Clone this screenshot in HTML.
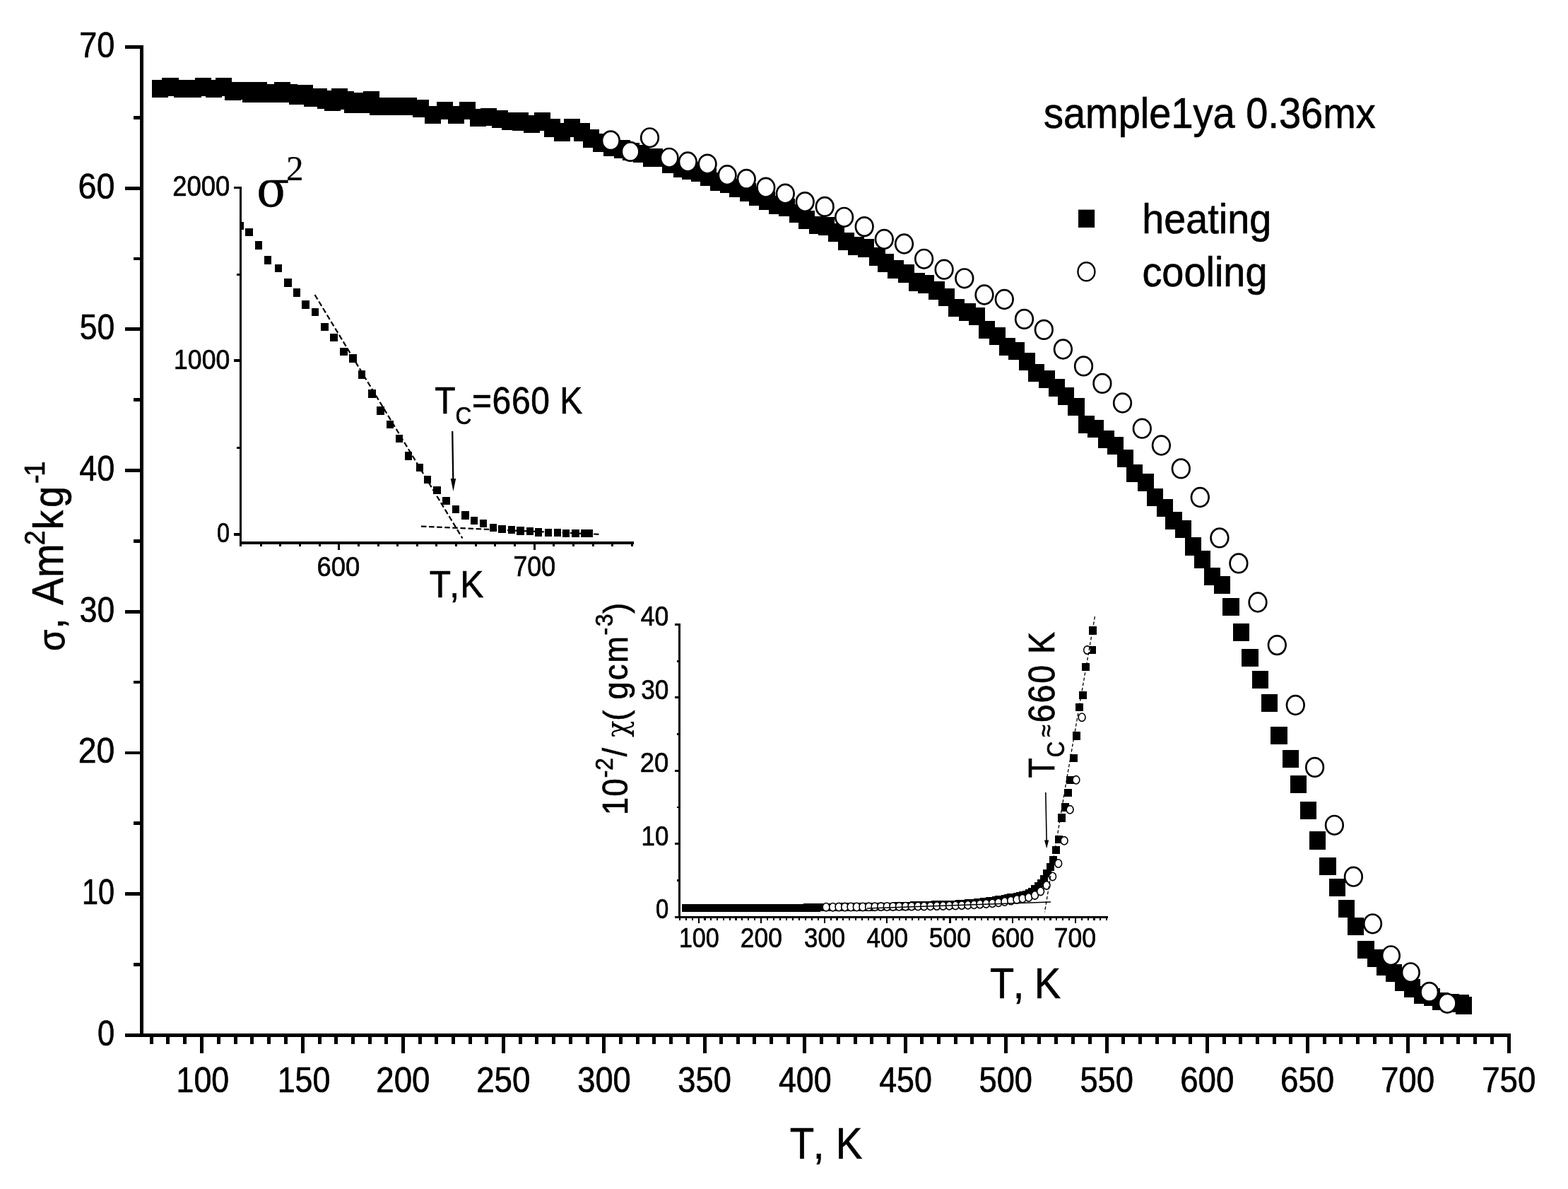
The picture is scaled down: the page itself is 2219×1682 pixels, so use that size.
<!DOCTYPE html>
<html lang="en">
<head>
<meta charset="utf-8">
<title>sample1ya 0.36mx - magnetization vs temperature</title>
<style>
html,body{margin:0;padding:0;background:#fff;}
body{width:2219px;height:1682px;overflow:hidden;}
svg{display:block;}
text{fill:#000;}
</style>
</head>
<body>
<svg xmlns="http://www.w3.org/2000/svg" width="2219" height="1682" viewBox="0 0 2219 1682" fill="#000">
<rect width="2219" height="1682" fill="#fff"/>
<g id="main-axes" shape-rendering="crispEdges">
<rect x="198.2" y="64" width="4.6" height="1402.8"/>
<rect x="177.1" y="1461.8" width="1960.9" height="5"/>
<rect x="188.8" y="1362.05" width="9.5" height="4.8"/>
<rect x="177.1" y="1262.2" width="21.2" height="4.8"/>
<rect x="188.8" y="1162.35" width="9.5" height="4.8"/>
<rect x="177.1" y="1062.5" width="21.2" height="4.8"/>
<rect x="188.8" y="962.65" width="9.5" height="4.8"/>
<rect x="177.1" y="862.8" width="21.2" height="4.8"/>
<rect x="188.8" y="762.95" width="9.5" height="4.8"/>
<rect x="177.1" y="663.1" width="21.2" height="4.8"/>
<rect x="188.8" y="563.25" width="9.5" height="4.8"/>
<rect x="177.1" y="463.4" width="21.2" height="4.8"/>
<rect x="188.8" y="363.55" width="9.5" height="4.8"/>
<rect x="177.1" y="263.7" width="21.2" height="4.8"/>
<rect x="188.8" y="163.85" width="9.5" height="4.8"/>
<rect x="177.1" y="64" width="21.2" height="4.8"/>
<rect x="211.65" y="1466.5" width="5" height="10.4"/>
<rect x="235.37" y="1466.5" width="5" height="10.4"/>
<rect x="259.08" y="1466.5" width="5" height="10.4"/>
<rect x="282.8" y="1466.5" width="5" height="23.2"/>
<rect x="306.66" y="1466.5" width="5" height="10.4"/>
<rect x="330.52" y="1466.5" width="5" height="10.4"/>
<rect x="354.37" y="1466.5" width="5" height="10.4"/>
<rect x="378.23" y="1466.5" width="5" height="10.4"/>
<rect x="402.09" y="1466.5" width="5" height="10.4"/>
<rect x="425.95" y="1466.5" width="5" height="23.2"/>
<rect x="449.64" y="1466.5" width="5" height="10.4"/>
<rect x="473.33" y="1466.5" width="5" height="10.4"/>
<rect x="497.03" y="1466.5" width="5" height="10.4"/>
<rect x="520.72" y="1466.5" width="5" height="10.4"/>
<rect x="544.41" y="1466.5" width="5" height="10.4"/>
<rect x="568.1" y="1466.5" width="5" height="23.2"/>
<rect x="591.75" y="1466.5" width="5" height="10.4"/>
<rect x="615.4" y="1466.5" width="5" height="10.4"/>
<rect x="639.05" y="1466.5" width="5" height="10.4"/>
<rect x="662.7" y="1466.5" width="5" height="10.4"/>
<rect x="686.35" y="1466.5" width="5" height="10.4"/>
<rect x="710" y="1466.5" width="5" height="23.2"/>
<rect x="733.73" y="1466.5" width="5" height="10.4"/>
<rect x="757.47" y="1466.5" width="5" height="10.4"/>
<rect x="781.2" y="1466.5" width="5" height="10.4"/>
<rect x="804.93" y="1466.5" width="5" height="10.4"/>
<rect x="828.67" y="1466.5" width="5" height="10.4"/>
<rect x="852.4" y="1466.5" width="5" height="23.2"/>
<rect x="876.08" y="1466.5" width="5" height="10.4"/>
<rect x="899.77" y="1466.5" width="5" height="10.4"/>
<rect x="923.45" y="1466.5" width="5" height="10.4"/>
<rect x="947.13" y="1466.5" width="5" height="10.4"/>
<rect x="970.82" y="1466.5" width="5" height="10.4"/>
<rect x="994.5" y="1466.5" width="5" height="23.2"/>
<rect x="1018.15" y="1466.5" width="5" height="10.4"/>
<rect x="1041.8" y="1466.5" width="5" height="10.4"/>
<rect x="1065.45" y="1466.5" width="5" height="10.4"/>
<rect x="1089.1" y="1466.5" width="5" height="10.4"/>
<rect x="1112.75" y="1466.5" width="5" height="10.4"/>
<rect x="1136.4" y="1466.5" width="5" height="23.2"/>
<rect x="1160.1" y="1466.5" width="5" height="10.4"/>
<rect x="1183.8" y="1466.5" width="5" height="10.4"/>
<rect x="1207.5" y="1466.5" width="5" height="10.4"/>
<rect x="1231.2" y="1466.5" width="5" height="10.4"/>
<rect x="1254.9" y="1466.5" width="5" height="10.4"/>
<rect x="1278.6" y="1466.5" width="5" height="23.2"/>
<rect x="1302.28" y="1466.5" width="5" height="10.4"/>
<rect x="1325.97" y="1466.5" width="5" height="10.4"/>
<rect x="1349.65" y="1466.5" width="5" height="10.4"/>
<rect x="1373.33" y="1466.5" width="5" height="10.4"/>
<rect x="1397.02" y="1466.5" width="5" height="10.4"/>
<rect x="1420.7" y="1466.5" width="5" height="23.2"/>
<rect x="1444.52" y="1466.5" width="5" height="10.4"/>
<rect x="1468.33" y="1466.5" width="5" height="10.4"/>
<rect x="1492.15" y="1466.5" width="5" height="10.4"/>
<rect x="1515.97" y="1466.5" width="5" height="10.4"/>
<rect x="1539.78" y="1466.5" width="5" height="10.4"/>
<rect x="1563.6" y="1466.5" width="5" height="23.2"/>
<rect x="1587.33" y="1466.5" width="5" height="10.4"/>
<rect x="1611.07" y="1466.5" width="5" height="10.4"/>
<rect x="1634.8" y="1466.5" width="5" height="10.4"/>
<rect x="1658.53" y="1466.5" width="5" height="10.4"/>
<rect x="1682.27" y="1466.5" width="5" height="10.4"/>
<rect x="1706" y="1466.5" width="5" height="23.2"/>
<rect x="1729.65" y="1466.5" width="5" height="10.4"/>
<rect x="1753.3" y="1466.5" width="5" height="10.4"/>
<rect x="1776.95" y="1466.5" width="5" height="10.4"/>
<rect x="1800.6" y="1466.5" width="5" height="10.4"/>
<rect x="1824.25" y="1466.5" width="5" height="10.4"/>
<rect x="1847.9" y="1466.5" width="5" height="23.2"/>
<rect x="1871.55" y="1466.5" width="5" height="10.4"/>
<rect x="1895.2" y="1466.5" width="5" height="10.4"/>
<rect x="1918.85" y="1466.5" width="5" height="10.4"/>
<rect x="1942.5" y="1466.5" width="5" height="10.4"/>
<rect x="1966.15" y="1466.5" width="5" height="10.4"/>
<rect x="1989.8" y="1466.5" width="5" height="23.2"/>
<rect x="2013.67" y="1466.5" width="5" height="10.4"/>
<rect x="2037.53" y="1466.5" width="5" height="10.4"/>
<rect x="2061.4" y="1466.5" width="5" height="10.4"/>
<rect x="2085.27" y="1466.5" width="5" height="10.4"/>
<rect x="2109.13" y="1466.5" width="5" height="10.4"/>
<rect x="2133" y="1466.5" width="5" height="23.2"/>
</g>
<g id="main-ticklabels">
<text transform="translate(112.17 80.86) scale(0.9114 1.0009)" font-family="'Liberation Sans', sans-serif" font-size="49.4" stroke="#000" stroke-width="0.69">70</text>
<text transform="translate(110.5 280.56) scale(0.9427 1.0009)" font-family="'Liberation Sans', sans-serif" font-size="49.4" stroke="#000" stroke-width="0.69">60</text>
<text transform="translate(112.87 480.26) scale(0.8984 1.0009)" font-family="'Liberation Sans', sans-serif" font-size="49.4" stroke="#000" stroke-width="0.69">50</text>
<text transform="translate(112.23 679.96) scale(0.9105 1.0009)" font-family="'Liberation Sans', sans-serif" font-size="49.4" stroke="#000" stroke-width="0.69">40</text>
<text transform="translate(112.87 879.66) scale(0.8984 1.0009)" font-family="'Liberation Sans', sans-serif" font-size="49.4" stroke="#000" stroke-width="0.69">30</text>
<text transform="translate(110.82 1079.36) scale(0.9368 1.0009)" font-family="'Liberation Sans', sans-serif" font-size="49.4" stroke="#000" stroke-width="0.69">20</text>
<text transform="translate(116.1 1279.06) scale(0.8378 1.0009)" font-family="'Liberation Sans', sans-serif" font-size="49.4" stroke="#000" stroke-width="0.69">10</text>
<text transform="translate(138 1478.76) scale(0.8792 1.0009)" font-family="'Liberation Sans', sans-serif" font-size="49.4" stroke="#000" stroke-width="0.69">0</text>
<text transform="translate(249.57 1544.55) scale(0.8946 1.0000)" font-family="'Liberation Sans', sans-serif" font-size="50" stroke="#000" stroke-width="0.7">100</text>
<text transform="translate(392.72 1544.55) scale(0.8946 1.0000)" font-family="'Liberation Sans', sans-serif" font-size="50" stroke="#000" stroke-width="0.7">150</text>
<text transform="translate(532.25 1544.55) scale(0.9132 1.0000)" font-family="'Liberation Sans', sans-serif" font-size="50" stroke="#000" stroke-width="0.7">200</text>
<text transform="translate(674.15 1544.55) scale(0.9132 1.0000)" font-family="'Liberation Sans', sans-serif" font-size="50" stroke="#000" stroke-width="0.7">250</text>
<text transform="translate(817.24 1544.55) scale(0.9047 1.0000)" font-family="'Liberation Sans', sans-serif" font-size="50" stroke="#000" stroke-width="0.7">300</text>
<text transform="translate(959.34 1544.55) scale(0.9047 1.0000)" font-family="'Liberation Sans', sans-serif" font-size="50" stroke="#000" stroke-width="0.7">350</text>
<text transform="translate(1101.93 1544.55) scale(0.8963 1.0000)" font-family="'Liberation Sans', sans-serif" font-size="50" stroke="#000" stroke-width="0.7">400</text>
<text transform="translate(1244.13 1544.55) scale(0.8963 1.0000)" font-family="'Liberation Sans', sans-serif" font-size="50" stroke="#000" stroke-width="0.7">450</text>
<text transform="translate(1385.54 1544.55) scale(0.9047 1.0000)" font-family="'Liberation Sans', sans-serif" font-size="50" stroke="#000" stroke-width="0.7">500</text>
<text transform="translate(1528.44 1544.55) scale(0.9047 1.0000)" font-family="'Liberation Sans', sans-serif" font-size="50" stroke="#000" stroke-width="0.7">550</text>
<text transform="translate(1670.15 1544.55) scale(0.9132 1.0000)" font-family="'Liberation Sans', sans-serif" font-size="50" stroke="#000" stroke-width="0.7">600</text>
<text transform="translate(1812.05 1544.55) scale(0.9132 1.0000)" font-family="'Liberation Sans', sans-serif" font-size="50" stroke="#000" stroke-width="0.7">650</text>
<text transform="translate(1953.95 1544.55) scale(0.9132 1.0000)" font-family="'Liberation Sans', sans-serif" font-size="50" stroke="#000" stroke-width="0.7">700</text>
<text transform="translate(2097.15 1544.55) scale(0.9132 1.0000)" font-family="'Liberation Sans', sans-serif" font-size="50" stroke="#000" stroke-width="0.7">750</text>
</g>
<text id="main-xlabel" transform="scale(0.9000 1)" font-family="'Liberation Sans', sans-serif" stroke="#000" xml:space="preserve"><tspan x="1242.03 1278.49 1296.31 1314.13" y="1639.49" font-size="62.71" stroke-width="0.7">T, K</tspan></text>
<text id="main-ylabel" transform="rotate(-90) scale(0.9177 1)" font-family="'Liberation Sans', sans-serif" stroke="#000" xml:space="preserve"><tspan x="-1003.69" y="90.79" font-size="53.82" stroke-width="0.7">σ</tspan><tspan x="-969.76 -951.19 -932.61 -890.15" y="89.49" font-size="62.59" stroke-width="0.7">, Am</tspan><tspan x="-840.3" y="63.39" font-size="40.97" stroke-width="0.7">2</tspan><tspan x="-816.06 -782.39" y="89.5" font-size="59.18" stroke-width="0.7">kg</tspan><tspan x="-745.41 -734.09" y="63.38" font-size="41.55" stroke-width="0.7">-1</tspan></text>
<g id="title"><text transform="translate(1476.98 181.2) scale(0.9269 1.0002)" font-family="'Liberation Sans', sans-serif" font-size="60.4" stroke="#000" stroke-width="0.69">sample1ya 0.36mx</text></g>
<g id="legend"><rect x="1526" y="296.6" width="23.1" height="25.3"/><ellipse cx="1537.4" cy="384.3" rx="12" ry="13" fill="#fff" stroke="#000" stroke-width="2.4"/><text transform="translate(1616.27 329.7) scale(0.9314 0.9994)" font-family="'Liberation Sans', sans-serif" font-size="59.9" stroke="#000" stroke-width="0.69">heating</text><text transform="translate(1616.44 405) scale(0.9296 1.0006)" font-family="'Liberation Sans', sans-serif" font-size="60.1" stroke="#000" stroke-width="0.69">cooling</text></g>
<g id="heating" shape-rendering="crispEdges">
<rect x="215.2" y="112.95" width="23.2" height="25.3"/>
<rect x="229.4" y="110.25" width="23.2" height="25.3"/>
<rect x="246.1" y="112.95" width="23.2" height="25.3"/>
<rect x="262" y="112.95" width="23.2" height="25.3"/>
<rect x="276.2" y="110.25" width="23.2" height="25.3"/>
<rect x="291.1" y="112.95" width="23.2" height="25.3"/>
<rect x="305" y="110.25" width="23.2" height="25.3"/>
<rect x="318" y="116.35" width="23.2" height="25.3"/>
<rect x="331.8" y="115.95" width="23.2" height="25.3"/>
<rect x="343.1" y="119.35" width="23.2" height="25.3"/>
<rect x="354.9" y="115.95" width="23.2" height="25.3"/>
<rect x="365" y="119.35" width="23.2" height="25.3"/>
<rect x="386.1" y="119.35" width="23.2" height="25.3"/>
<rect x="388.1" y="115.95" width="23.2" height="25.3"/>
<rect x="397.6" y="119.05" width="23.2" height="25.3"/>
<rect x="409.1" y="122.45" width="23.2" height="25.3"/>
<rect x="420" y="120.05" width="23.2" height="25.3"/>
<rect x="430.1" y="125.45" width="23.2" height="25.3"/>
<rect x="439.6" y="125.25" width="23.2" height="25.3"/>
<rect x="449.1" y="128.45" width="23.2" height="25.3"/>
<rect x="459" y="131.55" width="23.2" height="25.3"/>
<rect x="464" y="128.45" width="23.2" height="25.3"/>
<rect x="468.8" y="125.25" width="23.2" height="25.3"/>
<rect x="477.6" y="129.25" width="23.2" height="25.3"/>
<rect x="487.1" y="134.55" width="23.2" height="25.3"/>
<rect x="495" y="131.15" width="23.2" height="25.3"/>
<rect x="500" y="134.35" width="23.2" height="25.3"/>
<rect x="514" y="129.05" width="23.2" height="25.3"/>
<rect x="523.1" y="138.15" width="23.2" height="25.3"/>
<rect x="537" y="138.15" width="23.2" height="25.3"/>
<rect x="552" y="138.15" width="23.2" height="25.3"/>
<rect x="566.9" y="138.15" width="23.2" height="25.3"/>
<rect x="583.8" y="141.05" width="23.2" height="25.3"/>
<rect x="601.1" y="150.15" width="23.2" height="25.3"/>
<rect x="618" y="144.05" width="23.2" height="25.3"/>
<rect x="634" y="150.15" width="23.2" height="25.3"/>
<rect x="650" y="144.05" width="23.2" height="25.3"/>
<rect x="665.2" y="153.55" width="23.2" height="25.3"/>
<rect x="679.9" y="153.15" width="23.2" height="25.3"/>
<rect x="696" y="156.05" width="23.2" height="25.3"/>
<rect x="710" y="158.95" width="23.2" height="25.3"/>
<rect x="724.9" y="159.25" width="23.2" height="25.3"/>
<rect x="741.2" y="162.55" width="23.2" height="25.3"/>
<rect x="755.8" y="159.25" width="23.2" height="25.3"/>
<rect x="769.8" y="168.35" width="23.2" height="25.3"/>
<rect x="783.9" y="174.25" width="23.2" height="25.3"/>
<rect x="797.9" y="168.35" width="23.2" height="25.3"/>
<rect x="812.1" y="174.45" width="23.2" height="25.3"/>
<rect x="825" y="183.25" width="23.2" height="25.3"/>
<rect x="839.2" y="189.35" width="23.2" height="25.3"/>
<rect x="854.2" y="195.45" width="23.2" height="25.3"/>
<rect x="869.1" y="198.45" width="23.2" height="25.3"/>
<rect x="881.3" y="201.55" width="23.2" height="25.3"/>
<rect x="896.2" y="204.55" width="23.2" height="25.3"/>
<rect x="910" y="210.35" width="23.2" height="25.3"/>
<rect x="914.5" y="210.35" width="23.2" height="25.3"/>
<rect x="937.2" y="219.45" width="23.2" height="25.3"/>
<rect x="953.2" y="225.35" width="23.2" height="25.3"/>
<rect x="965.4" y="229.15" width="23.2" height="25.3"/>
<rect x="978.3" y="231.45" width="23.2" height="25.3"/>
<rect x="991.2" y="238.15" width="23.2" height="25.3"/>
<rect x="1005.4" y="244.25" width="23.2" height="25.3"/>
<rect x="1019" y="247.25" width="23.2" height="25.3"/>
<rect x="1032.1" y="253.35" width="23.2" height="25.3"/>
<rect x="1047" y="259.25" width="23.2" height="25.3"/>
<rect x="1060.3" y="265.35" width="23.2" height="25.3"/>
<rect x="1074.2" y="271.45" width="23.2" height="25.3"/>
<rect x="1088.2" y="277.45" width="23.2" height="25.3"/>
<rect x="1102.1" y="280.55" width="23.2" height="25.3"/>
<rect x="1117" y="289.35" width="23.2" height="25.3"/>
<rect x="1130.2" y="298.45" width="23.2" height="25.3"/>
<rect x="1145.1" y="305.65" width="23.2" height="25.3"/>
<rect x="1158" y="307.25" width="23.2" height="25.3"/>
<rect x="1172" y="316.45" width="23.2" height="25.3"/>
<rect x="1186.2" y="329.15" width="23.2" height="25.3"/>
<rect x="1200" y="335.45" width="23.2" height="25.3"/>
<rect x="1214" y="338.45" width="23.2" height="25.3"/>
<rect x="1230" y="350.45" width="23.2" height="25.3"/>
<rect x="1242.1" y="359.45" width="23.2" height="25.3"/>
<rect x="1256.1" y="368.45" width="23.2" height="25.3"/>
<rect x="1271" y="374.45" width="23.2" height="25.3"/>
<rect x="1286.2" y="386.35" width="23.2" height="25.3"/>
<rect x="1299.1" y="389.35" width="23.2" height="25.3"/>
<rect x="1314" y="398.25" width="23.2" height="25.3"/>
<rect x="1327.9" y="407.65" width="23.2" height="25.3"/>
<rect x="1342.2" y="422.95" width="23.2" height="25.3"/>
<rect x="1357.3" y="429.15" width="23.2" height="25.3"/>
<rect x="1370.9" y="434.95" width="23.2" height="25.3"/>
<rect x="1384.7" y="453.75" width="23.2" height="25.3"/>
<rect x="1400" y="463.05" width="23.2" height="25.3"/>
<rect x="1413.5" y="478.15" width="23.2" height="25.3"/>
<rect x="1426.8" y="483.85" width="23.2" height="25.3"/>
<rect x="1441.6" y="498.95" width="23.2" height="25.3"/>
<rect x="1454.7" y="514.75" width="23.2" height="25.3"/>
<rect x="1470" y="524.05" width="23.2" height="25.3"/>
<rect x="1483.5" y="535.85" width="23.2" height="25.3"/>
<rect x="1497.1" y="547.85" width="23.2" height="25.3"/>
<rect x="1511.4" y="562.95" width="23.2" height="25.3"/>
<rect x="1525.9" y="588.05" width="23.2" height="25.3"/>
<rect x="1539" y="593.75" width="23.2" height="25.3"/>
<rect x="1553.5" y="608.85" width="23.2" height="25.3"/>
<rect x="1567.1" y="618.15" width="23.2" height="25.3"/>
<rect x="1580.9" y="635.65" width="23.2" height="25.3"/>
<rect x="1593.7" y="657.05" width="23.2" height="25.3"/>
<rect x="1609.7" y="669.75" width="23.2" height="25.3"/>
<rect x="1623" y="690.85" width="23.2" height="25.3"/>
<rect x="1636.8" y="705.95" width="23.2" height="25.3"/>
<rect x="1649.4" y="723.95" width="23.2" height="25.3"/>
<rect x="1662.7" y="735.95" width="23.2" height="25.3"/>
<rect x="1676.9" y="760.45" width="23.2" height="25.3"/>
<rect x="1689.8" y="778.75" width="23.2" height="25.3"/>
<rect x="1703.9" y="802.85" width="23.2" height="25.3"/>
<rect x="1717.9" y="814.85" width="23.2" height="25.3"/>
<rect x="1730.4" y="845.65" width="23.2" height="25.3"/>
<rect x="1744.9" y="881.65" width="23.2" height="25.3"/>
<rect x="1757.3" y="917.75" width="23.2" height="25.3"/>
<rect x="1772.2" y="948.85" width="23.2" height="25.3"/>
<rect x="1784.9" y="981.85" width="23.2" height="25.3"/>
<rect x="1798.4" y="1027.75" width="23.2" height="25.3"/>
<rect x="1814.8" y="1060.75" width="23.2" height="25.3"/>
<rect x="1825.8" y="1096.85" width="23.2" height="25.3"/>
<rect x="1839.7" y="1133.95" width="23.2" height="25.3"/>
<rect x="1852.9" y="1176.25" width="23.2" height="25.3"/>
<rect x="1867.4" y="1212.75" width="23.2" height="25.3"/>
<rect x="1881" y="1242.85" width="23.2" height="25.3"/>
<rect x="1893.7" y="1272.75" width="23.2" height="25.3"/>
<rect x="1906.8" y="1297.65" width="23.2" height="25.3"/>
<rect x="1921.3" y="1330.85" width="23.2" height="25.3"/>
<rect x="1935.1" y="1342.95" width="23.2" height="25.3"/>
<rect x="1947.8" y="1354.75" width="23.2" height="25.3"/>
<rect x="1961" y="1364.15" width="23.2" height="25.3"/>
<rect x="1973.9" y="1376.65" width="23.2" height="25.3"/>
<rect x="1986.9" y="1385.45" width="23.2" height="25.3"/>
<rect x="2001.1" y="1394.85" width="23.2" height="25.3"/>
<rect x="2014.7" y="1398.05" width="23.2" height="25.3"/>
<rect x="2027" y="1403.85" width="23.2" height="25.3"/>
<rect x="2041.4" y="1405.85" width="23.2" height="25.3"/>
<rect x="2055.7" y="1407.15" width="23.2" height="25.3"/>
<rect x="2060" y="1409.95" width="23.2" height="25.3"/>
</g>
<g id="cooling" fill="#fff" stroke="#000" stroke-width="2.7">
<ellipse cx="864.3" cy="198.9" rx="12.3" ry="13.3"/>
<ellipse cx="892.1" cy="214.4" rx="12.3" ry="13.3"/>
<ellipse cx="919.5" cy="194.8" rx="12.3" ry="13.3"/>
<ellipse cx="947.1" cy="223.3" rx="12.3" ry="13.3"/>
<ellipse cx="973.3" cy="229" rx="12.3" ry="13.3"/>
<ellipse cx="1001.1" cy="232.1" rx="12.3" ry="13.3"/>
<ellipse cx="1029.1" cy="247.7" rx="12.3" ry="13.3"/>
<ellipse cx="1056.3" cy="253.4" rx="12.3" ry="13.3"/>
<ellipse cx="1083.8" cy="265.2" rx="12.3" ry="13.3"/>
<ellipse cx="1111.3" cy="274.1" rx="12.3" ry="13.3"/>
<ellipse cx="1139.2" cy="285.6" rx="12.3" ry="13.3"/>
<ellipse cx="1167.2" cy="292.4" rx="12.3" ry="13.3"/>
<ellipse cx="1194.6" cy="307.3" rx="12.3" ry="13.3"/>
<ellipse cx="1223.2" cy="320.6" rx="12.3" ry="13.3"/>
<ellipse cx="1251.3" cy="338.5" rx="12.3" ry="13.3"/>
<ellipse cx="1279.5" cy="345" rx="12.3" ry="13.3"/>
<ellipse cx="1307.6" cy="366.3" rx="12.3" ry="13.3"/>
<ellipse cx="1336.1" cy="381.2" rx="12.3" ry="13.3"/>
<ellipse cx="1364.8" cy="393.8" rx="12.3" ry="13.3"/>
<ellipse cx="1393" cy="417" rx="12.3" ry="13.3"/>
<ellipse cx="1421.3" cy="423.5" rx="12.3" ry="13.3"/>
<ellipse cx="1449.5" cy="451.4" rx="12.3" ry="13.3"/>
<ellipse cx="1477.3" cy="466.4" rx="12.3" ry="13.3"/>
<ellipse cx="1504.4" cy="494" rx="12.3" ry="13.3"/>
<ellipse cx="1533.5" cy="517.9" rx="12.3" ry="13.3"/>
<ellipse cx="1559.9" cy="542.4" rx="12.3" ry="13.3"/>
<ellipse cx="1588.5" cy="570" rx="12.3" ry="13.3"/>
<ellipse cx="1616.3" cy="606.2" rx="12.3" ry="13.3"/>
<ellipse cx="1643.4" cy="630" rx="12.3" ry="13.3"/>
<ellipse cx="1671.3" cy="662.9" rx="12.3" ry="13.3"/>
<ellipse cx="1698.3" cy="703.5" rx="12.3" ry="13.3"/>
<ellipse cx="1725.9" cy="760.9" rx="12.3" ry="13.3"/>
<ellipse cx="1752.9" cy="796.9" rx="12.3" ry="13.3"/>
<ellipse cx="1780" cy="852" rx="12.3" ry="13.3"/>
<ellipse cx="1807.3" cy="912.6" rx="12.3" ry="13.3"/>
<ellipse cx="1833.3" cy="997.5" rx="12.3" ry="13.3"/>
<ellipse cx="1860.6" cy="1085.4" rx="12.3" ry="13.3"/>
<ellipse cx="1888.4" cy="1167.3" rx="12.3" ry="13.3"/>
<ellipse cx="1915.4" cy="1240.2" rx="12.3" ry="13.3"/>
<ellipse cx="1942.5" cy="1306.8" rx="12.3" ry="13.3"/>
<ellipse cx="1968.4" cy="1351.8" rx="12.3" ry="13.3"/>
<ellipse cx="1996.3" cy="1375.8" rx="12.3" ry="13.3"/>
<ellipse cx="2022.8" cy="1403.4" rx="12.3" ry="13.3"/>
<ellipse cx="2048.2" cy="1419.3" rx="12.3" ry="13.3"/>
</g>
<g id="inset1">
<g shape-rendering="crispEdges">
<rect x="339.2" y="263.7" width="2.9" height="506.3"/>
<rect x="339.2" y="765.8" width="557.7" height="4.2"/>
<rect x="331" y="263.65" width="8.3" height="3.5"/>
<rect x="331" y="508.35" width="8.3" height="3.5"/>
<rect x="331" y="754.15" width="8.3" height="3.5"/>
<rect x="335.1" y="387.1" width="4.2" height="2.8"/>
<rect x="335.1" y="632.2" width="4.2" height="2.8"/>
<rect x="339.2" y="769.5" width="3" height="3.4"/>
<rect x="367.6" y="769.5" width="3" height="3.4"/>
<rect x="395.25" y="769.5" width="3" height="3.4"/>
<rect x="422.9" y="769.5" width="3" height="3.4"/>
<rect x="450.55" y="769.5" width="3" height="3.4"/>
<rect x="478.2" y="769.5" width="3" height="8.1"/>
<rect x="505.85" y="769.5" width="3" height="3.4"/>
<rect x="533.5" y="769.5" width="3" height="3.4"/>
<rect x="561.15" y="769.5" width="3" height="3.4"/>
<rect x="588.8" y="769.5" width="3" height="3.4"/>
<rect x="616.45" y="769.5" width="3" height="3.4"/>
<rect x="644.1" y="769.5" width="3" height="3.4"/>
<rect x="671.75" y="769.5" width="3" height="3.4"/>
<rect x="699.4" y="769.5" width="3" height="3.4"/>
<rect x="727.05" y="769.5" width="3" height="3.4"/>
<rect x="754.7" y="769.5" width="3" height="8.1"/>
<rect x="782.35" y="769.5" width="3" height="3.4"/>
<rect x="810" y="769.5" width="3" height="3.4"/>
<rect x="837.65" y="769.5" width="3" height="3.4"/>
<rect x="865.3" y="769.5" width="3" height="3.4"/>
<rect x="892.95" y="769.5" width="3" height="3.4"/>
</g>
<text transform="translate(244.14 277.11) scale(0.9187 1.0007)" font-family="'Liberation Sans', sans-serif" font-size="39.7" stroke="#000" stroke-width="0.68">2000</text>
<text transform="translate(246.09 521.82) scale(0.9148 1.0001)" font-family="'Liberation Sans', sans-serif" font-size="38.9" stroke="#000" stroke-width="0.68">1000</text>
<text transform="translate(307.12 767.11) scale(0.8213 0.9997)" font-family="'Liberation Sans', sans-serif" font-size="39.6" stroke="#000" stroke-width="0.67">0</text>
<text transform="translate(448.44 815.21) scale(0.9201 0.9997)" font-family="'Liberation Sans', sans-serif" font-size="39.6" stroke="#000" stroke-width="0.67">600</text>
<text transform="translate(726.49 815.1) scale(0.8957 0.9991)" font-family="'Liberation Sans', sans-serif" font-size="39.9" stroke="#000" stroke-width="0.68">700</text>
<text transform="scale(0.9196 1)" font-family="'Liberation Sans', sans-serif" stroke="#000" xml:space="preserve"><tspan x="660.96 691.86 708.07" y="844.63" font-size="54" stroke-width="0.7">T,K</tspan></text>
<text transform="scale(0.9566 1)" font-family="'Liberation Sans', sans-serif" stroke="#000" xml:space="preserve"><tspan x="379.53" y="291.83" font-size="71.03" font-family="'DejaVu Serif', 'Liberation Serif', serif" stroke-width="0.4">σ</tspan><tspan x="423.4" y="254.9" font-size="51.36" font-family="'Liberation Serif', serif" stroke-width="0.2">2</tspan></text>
<text transform="scale(0.8853 1)" font-family="'Liberation Sans', sans-serif" stroke="#000" xml:space="preserve"><tspan x="694.91" y="584.63" font-size="54.14" stroke-width="0.7">T</tspan><tspan x="727.93" y="600.09" font-size="35.62" stroke-width="0.7">C</tspan><tspan x="754.44 786.64 817.73 848.54 871.72 894.9" y="584.63" font-size="54.14" stroke-width="0.7">=660 K</tspan></text>
<g shape-rendering="crispEdges">
<rect x="342" y="313.9" width="3" height="11.1"/>
<rect x="347.2" y="322.8" width="10.6" height="11.4"/>
<rect x="360.8" y="341.3" width="10.6" height="11.4"/>
<rect x="373.7" y="362.3" width="10.6" height="11.4"/>
<rect x="388.7" y="373.7" width="10.6" height="11.4"/>
<rect x="402.4" y="394.3" width="10.6" height="11.4"/>
<rect x="414.8" y="408.1" width="10.6" height="11.4"/>
<rect x="427" y="425.1" width="10.6" height="11.4"/>
<rect x="440.6" y="435.9" width="10.6" height="11.4"/>
<rect x="454.4" y="457" width="10.6" height="11.4"/>
<rect x="467.4" y="472" width="10.6" height="11.4"/>
<rect x="481" y="491.6" width="10.6" height="11.4"/>
<rect x="494" y="501.4" width="10.6" height="11.4"/>
<rect x="506.8" y="524.2" width="10.6" height="11.4"/>
<rect x="521.1" y="551.3" width="10.6" height="11.4"/>
<rect x="533.4" y="575.1" width="10.6" height="11.4"/>
<rect x="546.7" y="594.5" width="10.6" height="11.4"/>
<rect x="559.7" y="614.8" width="10.6" height="11.4"/>
<rect x="572.8" y="639.1" width="10.6" height="11.4"/>
<rect x="588.6" y="655.9" width="10.6" height="11.4"/>
<rect x="599.8" y="672.7" width="10.6" height="11.4"/>
<rect x="613.2" y="687.8" width="10.6" height="11.4"/>
<rect x="626.2" y="702.8" width="10.6" height="11.4"/>
<rect x="639.8" y="714.6" width="10.6" height="11.4"/>
<rect x="653.1" y="723.3" width="10.6" height="11.4"/>
<rect x="665.7" y="730.7" width="10.6" height="11.4"/>
<rect x="678.7" y="734.7" width="10.6" height="11.4"/>
<rect x="692.7" y="740.7" width="10.6" height="11.4"/>
<rect x="705.3" y="742.7" width="10.6" height="11.4"/>
<rect x="718.6" y="743.7" width="10.6" height="11.4"/>
<rect x="731.4" y="745.2" width="10.6" height="11.4"/>
<rect x="744.7" y="746" width="10.6" height="11.4"/>
<rect x="756.7" y="747.2" width="10.6" height="11.4"/>
<rect x="770.5" y="747.8" width="10.6" height="11.4"/>
<rect x="783.5" y="747.8" width="10.6" height="11.4"/>
<rect x="795.6" y="748.8" width="10.6" height="11.4"/>
<rect x="808.9" y="748.8" width="10.6" height="11.4"/>
<rect x="821.9" y="748.8" width="10.6" height="11.4"/>
<rect x="828.2" y="748.8" width="10.6" height="11.4"/>
</g>
<g stroke="#000" fill="none" stroke-width="2.2" stroke-dasharray="7.5 3.6">
<line x1="445.5" y1="417" x2="654.5" y2="761.5"/>
<line x1="596" y1="744.6" x2="851" y2="756"/>
</g>
<line x1="640.2" y1="610" x2="641.3" y2="680" stroke="#000" stroke-width="2.3"/>
<polygon points="637.7,677 645.2,677 641.5,695"/>
</g>
<g id="inset2">
<g shape-rendering="crispEdges">
<rect x="960.1" y="881.9" width="3" height="417.4"/>
<rect x="955.2" y="1296.2" width="612.7" height="3.1"/>
<rect x="955.2" y="881.9" width="5" height="3"/>
<rect x="955.2" y="985.4" width="5" height="3"/>
<rect x="955.2" y="1088.9" width="5" height="3"/>
<rect x="955.2" y="1192.3" width="5" height="3"/>
<rect x="958" y="934.3" width="2.2" height="2.6"/>
<rect x="958" y="1037.3" width="2.2" height="2.6"/>
<rect x="958" y="1140.8" width="2.2" height="2.6"/>
<rect x="958" y="1244.4" width="2.2" height="2.6"/>
<rect x="961.06" y="1299" width="2.2" height="3"/>
<rect x="969.94" y="1299" width="2.2" height="3"/>
<rect x="978.82" y="1299" width="2.2" height="3"/>
<rect x="987.7" y="1299" width="2.2" height="7"/>
<rect x="996.49" y="1299" width="2.2" height="3"/>
<rect x="1005.28" y="1299" width="2.2" height="3"/>
<rect x="1014.07" y="1299" width="2.2" height="3"/>
<rect x="1022.86" y="1299" width="2.2" height="3"/>
<rect x="1031.65" y="1299" width="2.2" height="3"/>
<rect x="1040.44" y="1299" width="2.2" height="3"/>
<rect x="1049.23" y="1299" width="2.2" height="3"/>
<rect x="1058.02" y="1299" width="2.2" height="3"/>
<rect x="1066.81" y="1299" width="2.2" height="3"/>
<rect x="1075.6" y="1299" width="2.2" height="7"/>
<rect x="1084.62" y="1299" width="2.2" height="3"/>
<rect x="1093.64" y="1299" width="2.2" height="3"/>
<rect x="1102.66" y="1299" width="2.2" height="3"/>
<rect x="1111.68" y="1299" width="2.2" height="3"/>
<rect x="1120.7" y="1299" width="2.2" height="3"/>
<rect x="1129.72" y="1299" width="2.2" height="3"/>
<rect x="1138.74" y="1299" width="2.2" height="3"/>
<rect x="1147.76" y="1299" width="2.2" height="3"/>
<rect x="1156.78" y="1299" width="2.2" height="3"/>
<rect x="1165.8" y="1299" width="2.2" height="7"/>
<rect x="1174.63" y="1299" width="2.2" height="3"/>
<rect x="1183.46" y="1299" width="2.2" height="3"/>
<rect x="1192.29" y="1299" width="2.2" height="3"/>
<rect x="1201.12" y="1299" width="2.2" height="3"/>
<rect x="1209.95" y="1299" width="2.2" height="3"/>
<rect x="1218.78" y="1299" width="2.2" height="3"/>
<rect x="1227.61" y="1299" width="2.2" height="3"/>
<rect x="1236.44" y="1299" width="2.2" height="3"/>
<rect x="1245.27" y="1299" width="2.2" height="3"/>
<rect x="1254.1" y="1299" width="2.2" height="7"/>
<rect x="1263.03" y="1299" width="2.2" height="3"/>
<rect x="1271.96" y="1299" width="2.2" height="3"/>
<rect x="1280.89" y="1299" width="2.2" height="3"/>
<rect x="1289.82" y="1299" width="2.2" height="3"/>
<rect x="1298.75" y="1299" width="2.2" height="3"/>
<rect x="1307.68" y="1299" width="2.2" height="3"/>
<rect x="1316.61" y="1299" width="2.2" height="3"/>
<rect x="1325.54" y="1299" width="2.2" height="3"/>
<rect x="1334.47" y="1299" width="2.2" height="3"/>
<rect x="1343.4" y="1299" width="2.2" height="7"/>
<rect x="1352.28" y="1299" width="2.2" height="3"/>
<rect x="1361.16" y="1299" width="2.2" height="3"/>
<rect x="1370.04" y="1299" width="2.2" height="3"/>
<rect x="1378.92" y="1299" width="2.2" height="3"/>
<rect x="1387.8" y="1299" width="2.2" height="3"/>
<rect x="1396.68" y="1299" width="2.2" height="3"/>
<rect x="1405.56" y="1299" width="2.2" height="3"/>
<rect x="1414.44" y="1299" width="2.2" height="3"/>
<rect x="1423.32" y="1299" width="2.2" height="3"/>
<rect x="1432.2" y="1299" width="2.2" height="7"/>
<rect x="1441.06" y="1299" width="2.2" height="3"/>
<rect x="1449.92" y="1299" width="2.2" height="3"/>
<rect x="1458.78" y="1299" width="2.2" height="3"/>
<rect x="1467.64" y="1299" width="2.2" height="3"/>
<rect x="1476.5" y="1299" width="2.2" height="3"/>
<rect x="1485.36" y="1299" width="2.2" height="3"/>
<rect x="1494.22" y="1299" width="2.2" height="3"/>
<rect x="1503.08" y="1299" width="2.2" height="3"/>
<rect x="1511.94" y="1299" width="2.2" height="3"/>
<rect x="1520.8" y="1299" width="2.2" height="7"/>
<rect x="1529.66" y="1299" width="2.2" height="3"/>
<rect x="1538.52" y="1299" width="2.2" height="3"/>
<rect x="1547.38" y="1299" width="2.2" height="3"/>
<rect x="1556.24" y="1299" width="2.2" height="3"/>
<rect x="1565.1" y="1299" width="2.2" height="3"/>
</g>
<text transform="translate(906.66 885.21) scale(0.9033 0.9988)" font-family="'Liberation Sans', sans-serif" font-size="39.5" stroke="#000" stroke-width="0.69">40</text>
<text transform="translate(907.14 989.11) scale(0.8921 0.9988)" font-family="'Liberation Sans', sans-serif" font-size="39.5" stroke="#000" stroke-width="0.69">30</text>
<text transform="translate(905.74 1092.31) scale(0.9250 0.9988)" font-family="'Liberation Sans', sans-serif" font-size="39.5" stroke="#000" stroke-width="0.69">20</text>
<text transform="translate(907.53 1196.11) scale(0.8830 0.9988)" font-family="'Liberation Sans', sans-serif" font-size="39.5" stroke="#000" stroke-width="0.69">10</text>
<text transform="translate(927.91 1299.21) scale(0.8337 0.9988)" font-family="'Liberation Sans', sans-serif" font-size="39.5" stroke="#000" stroke-width="0.69">0</text>
<text transform="translate(960.88 1340.32) scale(0.8742 1.0011)" font-family="'Liberation Sans', sans-serif" font-size="39" stroke="#000" stroke-width="0.68">100</text>
<text transform="translate(1047.78 1340.32) scale(0.9087 1.0011)" font-family="'Liberation Sans', sans-serif" font-size="39" stroke="#000" stroke-width="0.68">200</text>
<text transform="translate(1138.05 1340.32) scale(0.8950 1.0011)" font-family="'Liberation Sans', sans-serif" font-size="39" stroke="#000" stroke-width="0.68">300</text>
<text transform="translate(1226.47 1340.32) scale(0.9010 1.0011)" font-family="'Liberation Sans', sans-serif" font-size="39" stroke="#000" stroke-width="0.68">400</text>
<text transform="translate(1314.74 1340.32) scale(0.9094 1.0011)" font-family="'Liberation Sans', sans-serif" font-size="39" stroke="#000" stroke-width="0.68">500</text>
<text transform="translate(1402.74 1340.32) scale(0.9343 1.0011)" font-family="'Liberation Sans', sans-serif" font-size="39" stroke="#000" stroke-width="0.68">600</text>
<text transform="translate(1491.7 1340.32) scale(0.9131 1.0011)" font-family="'Liberation Sans', sans-serif" font-size="39" stroke="#000" stroke-width="0.68">700</text>
<text transform="scale(0.9126 1)" font-family="'Liberation Sans', sans-serif" stroke="#000" xml:space="preserve"><tspan x="1535.14 1571.05 1587.42 1603.8" y="1412.49" font-size="61.29" stroke-width="0.7">T, K</tspan></text>
<text transform="rotate(-90) scale(0.9238 1)" font-family="'Liberation Sans', sans-serif" stroke="#000" xml:space="preserve"><tspan x="-1248.29 -1219.82" y="887.55" font-size="49.72" stroke-width="0.7">10</tspan><tspan x="-1190.89 -1179.65" y="866.86" font-size="34.17" stroke-width="0.7">-2</tspan><tspan x="-1158.49 -1158.49" y="887.35" font-size="47.73" stroke-width="0.7">/ </tspan><tspan x="-1129.09" y="888.16" font-size="42.38" font-family="'DejaVu Serif', 'Liberation Serif', serif" stroke="none">χ</tspan><tspan x="-1103.89 -1087.52 -1071.15 -1041.54 -1015.21" y="887.69" font-size="48.89" stroke-width="0.7">( gcm</tspan><tspan x="-972.57 -959.43" y="866.51" font-size="34.66" stroke-width="0.7">-3</tspan><tspan x="-939.44" y="887.69" font-size="48.89" stroke-width="0.7">)</tspan></text>
<text transform="rotate(-90) scale(0.9024 1)" font-family="'Liberation Sans', sans-serif" stroke="#000" xml:space="preserve"><tspan x="-1219.44" y="1491.84" font-size="51.21" stroke-width="0.7">T</tspan><tspan x="-1187.07" y="1505.7" font-size="34.79" stroke-width="0.7">C</tspan><tspan x="-1155.36" y="1491.8" font-size="34.86" stroke-width="0.7">≈</tspan><tspan x="-1132.78 -1102.11 -1071.43 -1048.22 -1025.01" y="1491.84" font-size="51.57" stroke-width="0.7">660 K</tspan></text>
<g shape-rendering="crispEdges">
<rect x="965.1" y="1278.8" width="10.8" height="11.6"/>
<rect x="969.4" y="1278.79" width="10.8" height="11.6"/>
<rect x="973.7" y="1278.79" width="10.8" height="11.6"/>
<rect x="978" y="1278.78" width="10.8" height="11.6"/>
<rect x="982.3" y="1278.78" width="10.8" height="11.6"/>
<rect x="986.6" y="1278.77" width="10.8" height="11.6"/>
<rect x="990.9" y="1278.77" width="10.8" height="11.6"/>
<rect x="995.2" y="1278.76" width="10.8" height="11.6"/>
<rect x="999.5" y="1278.76" width="10.8" height="11.6"/>
<rect x="1003.8" y="1278.75" width="10.8" height="11.6"/>
<rect x="1008.1" y="1278.75" width="10.8" height="11.6"/>
<rect x="1012.4" y="1278.74" width="10.8" height="11.6"/>
<rect x="1016.7" y="1278.74" width="10.8" height="11.6"/>
<rect x="1021" y="1278.73" width="10.8" height="11.6"/>
<rect x="1025.3" y="1278.73" width="10.8" height="11.6"/>
<rect x="1029.6" y="1278.72" width="10.8" height="11.6"/>
<rect x="1033.9" y="1278.72" width="10.8" height="11.6"/>
<rect x="1038.2" y="1278.71" width="10.8" height="11.6"/>
<rect x="1042.5" y="1278.71" width="10.8" height="11.6"/>
<rect x="1046.8" y="1278.7" width="10.8" height="11.6"/>
<rect x="1051.1" y="1278.7" width="10.8" height="11.6"/>
<rect x="1055.4" y="1278.69" width="10.8" height="11.6"/>
<rect x="1059.7" y="1278.69" width="10.8" height="11.6"/>
<rect x="1064" y="1278.68" width="10.8" height="11.6"/>
<rect x="1068.3" y="1278.68" width="10.8" height="11.6"/>
<rect x="1072.6" y="1278.67" width="10.8" height="11.6"/>
<rect x="1076.9" y="1278.67" width="10.8" height="11.6"/>
<rect x="1081.2" y="1278.66" width="10.8" height="11.6"/>
<rect x="1085.5" y="1278.66" width="10.8" height="11.6"/>
<rect x="1089.8" y="1278.65" width="10.8" height="11.6"/>
<rect x="1094.1" y="1278.65" width="10.8" height="11.6"/>
<rect x="1098.4" y="1278.64" width="10.8" height="11.6"/>
<rect x="1102.7" y="1278.64" width="10.8" height="11.6"/>
<rect x="1107" y="1278.63" width="10.8" height="11.6"/>
<rect x="1111.3" y="1278.63" width="10.8" height="11.6"/>
<rect x="1115.6" y="1278.62" width="10.8" height="11.6"/>
<rect x="1119.9" y="1278.61" width="10.8" height="11.6"/>
<rect x="1124.2" y="1278.61" width="10.8" height="11.6"/>
<rect x="1128.5" y="1278.6" width="10.8" height="11.6"/>
<rect x="1132.8" y="1278.55" width="10.8" height="11.6"/>
<rect x="1137.1" y="1278.07" width="10.8" height="11.6"/>
<rect x="1141.4" y="1278.01" width="10.8" height="11.6"/>
<rect x="1145.7" y="1277.96" width="10.8" height="11.6"/>
<rect x="1150" y="1277.9" width="10.8" height="11.6"/>
<rect x="1154.3" y="1277.85" width="10.8" height="11.6"/>
<rect x="1158.6" y="1277.79" width="10.8" height="11.6"/>
<rect x="1162.9" y="1277.74" width="10.8" height="11.6"/>
<rect x="1167.2" y="1277.68" width="10.8" height="11.6"/>
<rect x="1171.5" y="1277.63" width="10.8" height="11.6"/>
<rect x="1175.8" y="1277.57" width="10.8" height="11.6"/>
<rect x="1180.1" y="1277.52" width="10.8" height="11.6"/>
<rect x="1184.4" y="1277.46" width="10.8" height="11.6"/>
<rect x="1188.7" y="1277.41" width="10.8" height="11.6"/>
<rect x="1193" y="1277.35" width="10.8" height="11.6"/>
<rect x="1197.3" y="1277.3" width="10.8" height="11.6"/>
<rect x="1201.6" y="1277.24" width="10.8" height="11.6"/>
<rect x="1205.9" y="1277.19" width="10.8" height="11.6"/>
<rect x="1210.2" y="1277.13" width="10.8" height="11.6"/>
<rect x="1214.5" y="1277.08" width="10.8" height="11.6"/>
<rect x="1218.8" y="1277.02" width="10.8" height="11.6"/>
<rect x="1223.1" y="1276.97" width="10.8" height="11.6"/>
<rect x="1227.4" y="1276.91" width="10.8" height="11.6"/>
<rect x="1231.7" y="1276.86" width="10.8" height="11.6"/>
<rect x="1236" y="1276.8" width="10.8" height="11.6"/>
<rect x="1240.3" y="1276.75" width="10.8" height="11.6"/>
<rect x="1244.6" y="1276.69" width="10.8" height="11.6"/>
<rect x="1248.9" y="1276.64" width="10.8" height="11.6"/>
<rect x="1253.2" y="1276.58" width="10.8" height="11.6"/>
<rect x="1257.5" y="1276.53" width="10.8" height="11.6"/>
<rect x="1261.8" y="1276.41" width="10.8" height="11.6"/>
<rect x="1266.1" y="1276.25" width="10.8" height="11.6"/>
<rect x="1270.4" y="1276.08" width="10.8" height="11.6"/>
<rect x="1274.7" y="1275.91" width="10.8" height="11.6"/>
<rect x="1279" y="1275.74" width="10.8" height="11.6"/>
<rect x="1283.3" y="1275.57" width="10.8" height="11.6"/>
<rect x="1287.6" y="1275.4" width="10.8" height="11.6"/>
<rect x="1291.9" y="1275.24" width="10.8" height="11.6"/>
<rect x="1296.2" y="1275.07" width="10.8" height="11.6"/>
<rect x="1300.5" y="1274.9" width="10.8" height="11.6"/>
<rect x="1304.8" y="1274.73" width="10.8" height="11.6"/>
<rect x="1309.1" y="1274.63" width="10.8" height="11.6"/>
<rect x="1313.4" y="1274.54" width="10.8" height="11.6"/>
<rect x="1317.7" y="1274.45" width="10.8" height="11.6"/>
<rect x="1322" y="1274.36" width="10.8" height="11.6"/>
<rect x="1326.3" y="1274.27" width="10.8" height="11.6"/>
<rect x="1330.6" y="1274.18" width="10.8" height="11.6"/>
<rect x="1334.9" y="1274.09" width="10.8" height="11.6"/>
<rect x="1339.2" y="1273.9" width="10.8" height="11.6"/>
<rect x="1343.5" y="1273.71" width="10.8" height="11.6"/>
<rect x="1347.8" y="1273.52" width="10.8" height="11.6"/>
<rect x="1352.1" y="1273.29" width="10.8" height="11.6"/>
<rect x="1356.4" y="1272.98" width="10.8" height="11.6"/>
<rect x="1360.7" y="1272.67" width="10.8" height="11.6"/>
<rect x="1365" y="1272.36" width="10.8" height="11.6"/>
<rect x="1369.3" y="1272.03" width="10.8" height="11.6"/>
<rect x="1373.6" y="1271.58" width="10.8" height="11.6"/>
<rect x="1377.9" y="1271.12" width="10.8" height="11.6"/>
<rect x="1382.2" y="1270.67" width="10.8" height="11.6"/>
<rect x="1386.5" y="1270.22" width="10.8" height="11.6"/>
<rect x="1390.8" y="1269.71" width="10.8" height="11.6"/>
<rect x="1395.1" y="1269.13" width="10.8" height="11.6"/>
<rect x="1399.4" y="1268.56" width="10.8" height="11.6"/>
<rect x="1403.7" y="1267.99" width="10.8" height="11.6"/>
<rect x="1408" y="1267.41" width="10.8" height="11.6"/>
<rect x="1412.3" y="1266.84" width="10.8" height="11.6"/>
<rect x="1416.6" y="1266.2" width="10.8" height="11.6"/>
<rect x="1420.9" y="1265.32" width="10.8" height="11.6"/>
<rect x="1425.2" y="1264.44" width="10.8" height="11.6"/>
<rect x="1429.5" y="1263.56" width="10.8" height="11.6"/>
<rect x="1433.8" y="1262.68" width="10.8" height="11.6"/>
<rect x="1438.1" y="1261.79" width="10.8" height="11.6"/>
<rect x="1442.4" y="1260.85" width="10.8" height="11.6"/>
<rect x="1446.7" y="1259.91" width="10.8" height="11.6"/>
<rect x="1451.2" y="1258" width="10.8" height="11.6"/>
<rect x="1455.2" y="1255.6" width="10.8" height="11.6"/>
<rect x="1459.2" y="1251.8" width="10.8" height="11.6"/>
<rect x="1464.1" y="1247.8" width="10.8" height="11.6"/>
<rect x="1468.2" y="1243.8" width="10.8" height="11.6"/>
<rect x="1472.1" y="1237.9" width="10.8" height="11.6"/>
<rect x="1476.2" y="1229.8" width="10.8" height="11.6"/>
<rect x="1481.1" y="1220.8" width="10.8" height="11.6"/>
<rect x="1485.1" y="1210.9" width="10.8" height="11.6"/>
<rect x="1489.1" y="1196.7" width="10.8" height="11.6"/>
<rect x="1493.1" y="1181.8" width="10.8" height="11.6"/>
<rect x="1497.3" y="1151.1" width="10.8" height="11.6"/>
<rect x="1501.9" y="1136" width="10.8" height="11.6"/>
<rect x="1506" y="1115.8" width="10.8" height="11.6"/>
<rect x="1508.9" y="1097.6" width="10.8" height="11.6"/>
<rect x="1514.1" y="1066.6" width="10.8" height="11.6"/>
<rect x="1518.2" y="1035.1" width="10.8" height="11.6"/>
<rect x="1522" y="994.7" width="10.8" height="11.6"/>
<rect x="1527.3" y="977.8" width="10.8" height="11.6"/>
<rect x="1531.2" y="937.7" width="10.8" height="11.6"/>
<rect x="1540.4" y="913.8" width="10.8" height="11.6"/>
<rect x="1541.1" y="886.3" width="10.8" height="11.6"/>
</g>
<g fill="#fff" stroke="#000" stroke-width="1.6">
<ellipse cx="1169.1" cy="1283.2" rx="4.9" ry="5.7"/>
<ellipse cx="1178.6" cy="1283.2" rx="4.9" ry="5.7"/>
<ellipse cx="1187" cy="1283.1" rx="4.9" ry="5.7"/>
<ellipse cx="1195.6" cy="1283.1" rx="4.9" ry="5.7"/>
<ellipse cx="1204" cy="1283" rx="4.9" ry="5.7"/>
<ellipse cx="1212.3" cy="1283" rx="4.9" ry="5.7"/>
<ellipse cx="1220.9" cy="1282.9" rx="4.9" ry="5.7"/>
<ellipse cx="1229.5" cy="1282.8" rx="4.9" ry="5.7"/>
<ellipse cx="1238" cy="1282.7" rx="4.9" ry="5.7"/>
<ellipse cx="1246.6" cy="1282.6" rx="4.9" ry="5.7"/>
<ellipse cx="1255.2" cy="1282.5" rx="4.9" ry="5.7"/>
<ellipse cx="1263.8" cy="1282.4" rx="4.9" ry="5.7"/>
<ellipse cx="1272.4" cy="1282.3" rx="4.9" ry="5.7"/>
<ellipse cx="1281.4" cy="1282.2" rx="4.9" ry="5.7"/>
<ellipse cx="1290" cy="1282.1" rx="4.9" ry="5.7"/>
<ellipse cx="1299.1" cy="1282" rx="4.9" ry="5.7"/>
<ellipse cx="1307.7" cy="1281.9" rx="4.9" ry="5.7"/>
<ellipse cx="1316.7" cy="1281.8" rx="4.9" ry="5.7"/>
<ellipse cx="1325.8" cy="1281.6" rx="4.9" ry="5.7"/>
<ellipse cx="1334.6" cy="1281.4" rx="4.9" ry="5.7"/>
<ellipse cx="1343.4" cy="1281.2" rx="4.9" ry="5.7"/>
<ellipse cx="1352.2" cy="1280.9" rx="4.9" ry="5.7"/>
<ellipse cx="1361" cy="1280.6" rx="4.9" ry="5.7"/>
<ellipse cx="1369.8" cy="1280.2" rx="4.9" ry="5.7"/>
<ellipse cx="1378.4" cy="1279.8" rx="4.9" ry="5.7"/>
<ellipse cx="1386.8" cy="1279.1" rx="4.9" ry="5.7"/>
<ellipse cx="1395.6" cy="1278.4" rx="4.9" ry="5.7"/>
<ellipse cx="1404.4" cy="1277.8" rx="4.9" ry="5.7"/>
<ellipse cx="1413" cy="1276.8" rx="4.9" ry="5.7"/>
<ellipse cx="1421.8" cy="1275.5" rx="4.9" ry="5.7"/>
<ellipse cx="1430.6" cy="1274.1" rx="4.9" ry="5.7"/>
<ellipse cx="1439" cy="1272.5" rx="4.9" ry="5.7"/>
<ellipse cx="1447.1" cy="1271.1" rx="4.9" ry="5.7"/>
<ellipse cx="1455.7" cy="1269.4" rx="4.9" ry="5.7"/>
<ellipse cx="1464.5" cy="1266.4" rx="4.9" ry="5.7"/>
<ellipse cx="1472.6" cy="1260.9" rx="4.9" ry="5.7"/>
<ellipse cx="1481.1" cy="1252.4" rx="4.9" ry="5.7"/>
<ellipse cx="1489.6" cy="1239.9" rx="4.9" ry="5.7"/>
<ellipse cx="1497.7" cy="1221.5" rx="4.9" ry="5.7"/>
<ellipse cx="1506.1" cy="1189.3" rx="4.9" ry="5.7"/>
<ellipse cx="1514.1" cy="1145.3" rx="4.9" ry="5.7"/>
<ellipse cx="1522.9" cy="1103.3" rx="4.9" ry="5.7"/>
<ellipse cx="1531.1" cy="1014.7" rx="4.9" ry="5.7"/>
<ellipse cx="1538.6" cy="919.6" rx="4.9" ry="5.7"/>
</g>
<line x1="1227" y1="1285" x2="1487" y2="1276" stroke="#000" stroke-width="1.6"/>
<polyline points="1549.4,872.2 1508.2,1110.4 1478.4,1290.4" fill="none" stroke="#000" stroke-width="1.3" stroke-dasharray="4.5 2.8"/>
<line x1="1479.8" y1="1121" x2="1481.2" y2="1192" stroke="#000" stroke-width="1.6"/>
<polygon points="1478,1188.5 1484.2,1188.5 1481.2,1200.2"/>
</g>
</svg>
</body>
</html>
